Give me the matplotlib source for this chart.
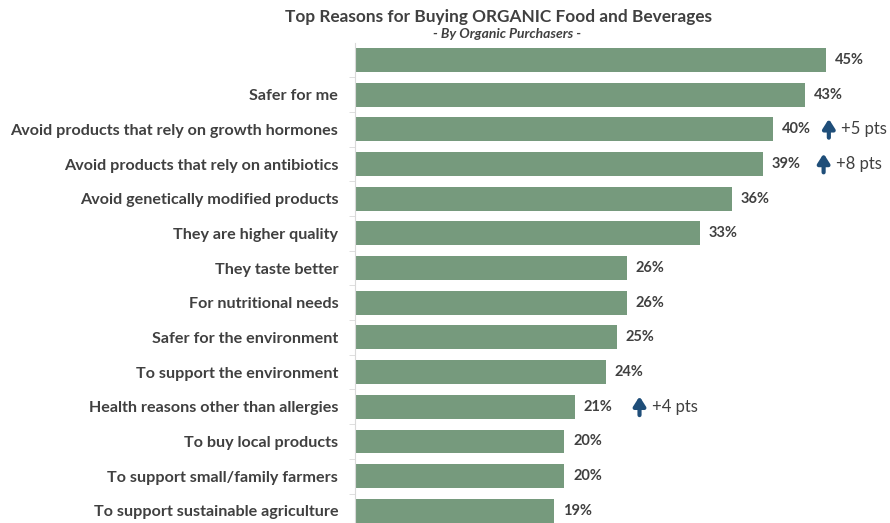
import matplotlib
matplotlib.use("Agg")
import matplotlib.pyplot as plt

plt.rcParams['font.family'] = ['Lato', 'DejaVu Sans']

reasons = ["", "Safer for me", "Avoid products that rely on growth hormones",
           "Avoid products that rely on antibiotics", "Avoid genetically modified products",
           "They are higher quality", "They taste better", "For nutritional needs",
           "Safer for the environment", "To support the environment",
           "Health reasons other than allergies", "To buy local products",
           "To support small/family farmers", "To support sustainable agriculture"]
values = [45, 43, 40, 39, 36, 33, 26, 26, 25, 24, 21, 20, 20, 19]
# rows with a change note
change_rows = [2, 3, 10]
change_text = ["+5 pts", "+8 pts", "+4 pts"]
change_x = [45.3, 44.8, 27.2]

BAR = '#769A7D'
TXT = '#404040'
ARROW = '#1F4E79'

fig = plt.figure(figsize=(8.9, 5.23), dpi=100)
ax = fig.add_axes([355/890, 0, 523/890, 480/523])

ypos = list(range(len(values)))
ax.barh(ypos, values, height=0.69, color=BAR)
ax.set_xlim(0, 50)
ax.set_ylim(13.35, -0.49)

for y, v in zip(ypos, values):
    ax.text(v + 0.85, y, "%d%%" % v, va='center', ha='left', fontsize=10.5,
            fontweight='bold', color=TXT)

for r, t, x in zip(change_rows, change_text, change_x):
    ax.annotate("", xy=(x, r - 0.3), xytext=(x, r + 0.24),
                arrowprops=dict(arrowstyle='-|>,head_width=0.35,head_length=0.55',
                                lw=3, color=ARROW, shrinkA=0, shrinkB=0))
    ax.text(x + 1.15, r, t, va='center', ha='left', fontsize=12, color=TXT)

ax.set_yticks(ypos)
ax.set_yticklabels(reasons, fontsize=11.6, fontweight='bold', color=TXT)
ax.set_yticks([y + 0.5 for y in ypos[:-1]], minor=True)
ax.tick_params(axis='y', which='major', length=0, pad=12)
ax.tick_params(axis='y', which='minor', length=4, color='#D9D9D9')
ax.set_xticks([])
for s in ['top', 'right', 'bottom']:
    ax.spines[s].set_visible(False)
ax.spines['left'].set_color('#D9D9D9')

fig.text(0.56, 0.968, "Top Reasons for Buying ORGANIC Food and Beverages",
         ha='center', va='center', fontsize=12.4, fontweight='bold', color=TXT)
fig.text(0.57, 0.935, "- By Organic Purchasers -", ha='center', va='center',
         fontsize=10, fontweight='bold', style='italic', color=TXT)

fig.savefig("out.png", dpi=100)
